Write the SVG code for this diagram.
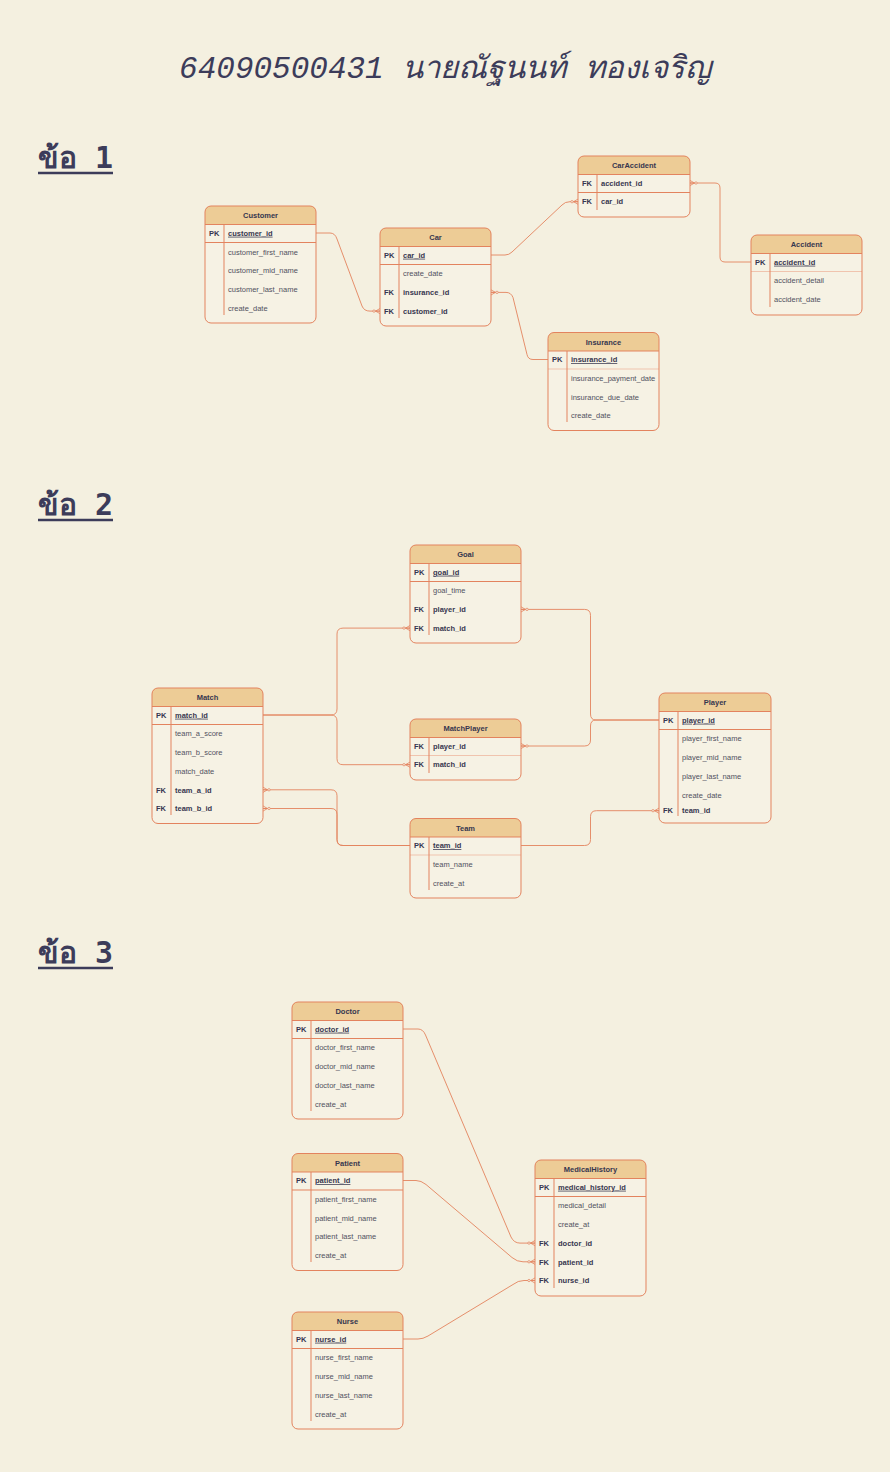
<svg xmlns="http://www.w3.org/2000/svg" width="890" height="1472" viewBox="0 0 890 1472">
<defs>
<style>
.bd{fill:#F6F2E4;stroke:none}
.hd{fill:#EDCC96;stroke:none}
.ol{fill:none;stroke:#E3835E;stroke-width:1}
.sp{stroke:#E3835E;stroke-width:1}
.spl{stroke:#F0C4AE;stroke-width:1}
.dv{stroke:#E3835E;stroke-width:1}
.t{font-family:"Liberation Sans",Arial,Helvetica,sans-serif;font-size:7.5px;fill:#51515F}
.h{font-weight:bold;text-anchor:middle;fill:#36364F}
.k{font-weight:bold;fill:#36364F}
.u{font-weight:bold;fill:#36364F;text-decoration:underline}
.c{fill:none;stroke:#E3835E;stroke-width:0.9}
.ttl{font-family:"Liberation Mono","DejaVu Sans Mono",monospace;font-size:31px;font-style:italic;fill:#3C3C5A;text-anchor:middle}
.sec{font-family:"DejaVu Sans Mono","Liberation Mono",monospace;font-size:30px;font-weight:bold;fill:#3C3C5A}
.ul{stroke:#3C3C5A;stroke-width:2.5}
</style>
<marker id="many" viewBox="-8 -4 9 8" refX="0" refY="0" markerWidth="9" markerHeight="8" markerUnits="userSpaceOnUse" orient="auto">
<path d="M-4.5,0 L0,-2.6 M-4.5,0 L0,0 M-4.5,0 L0,2.6" fill="none" stroke="#E3835E" stroke-width="0.8"/>
<circle cx="-6" cy="0" r="1.2" fill="#F4F0E0" stroke="#E3835E" stroke-width="0.7"/>
</marker>
</defs>
<rect x="0" y="0" width="890" height="1472" fill="#F4F0E0"/>

<g id="title">
<text class="ttl" x="445" y="78">64090500431 นายณัฐนนท์ ทองเจริญ</text>
</g>
<g id="labels">
<text class="sec" x="38" y="168">ข้อ 1</text>
<line class="ul" x1="38" y1="173" x2="113" y2="173"/>
<text class="sec" x="38" y="515">ข้อ 2</text>
<line class="ul" x1="38" y1="520" x2="113" y2="520"/>
<text class="sec" x="38" y="963">ข้อ 3</text>
<line class="ul" x1="38" y1="968" x2="113" y2="968"/>
</g>

<g id="connectors">
<path class="c" d="M316,233 H330 Q335,233 337,239 L362,306 Q364,311.1 370,311.1 H380" marker-end="url(#many)"/>
<path class="c" d="M491,255 H505 Q509,255 512,252 L562,205 Q565,201.7 570,201.7 H578" marker-end="url(#many)"/>
<path class="c" d="M751,262 H725 Q720,262 720,257 V188 Q720,183 715,183 H690" marker-end="url(#many)"/>
<path class="c" d="M548,359.5 H533 Q528,359.5 527,354.5 L513,297.5 Q511,292.4 506,292.4 H491" marker-end="url(#many)"/>

<path class="c" d="M263,715 H331 Q337,715 337,709 V634 Q337,628.1 343,628.1 H410" marker-end="url(#many)"/>
<path class="c" d="M263,715 H331 Q337,715 337,721 V758.7 Q337,764.7 343,764.7 H410" marker-end="url(#many)"/>
<path class="c" d="M659,720 H596 Q590.5,720 590.5,714 V615.4 Q590.5,609.4 584.5,609.4 H521" marker-end="url(#many)"/>
<path class="c" d="M659,720 H596 Q590.5,720 590.5,726 V740 Q590.5,746 584.5,746 H521" marker-end="url(#many)"/>
<path class="c" d="M410,845.5 H343 Q337,845.5 337,839.5 V795.8 Q337,789.8 331,789.8 H263" marker-end="url(#many)"/>
<path class="c" d="M410,845.5 H343 Q337,845.5 337,839.5 V814.5 Q337,808.5 331,808.5 H263" marker-end="url(#many)"/>
<path class="c" d="M521,845.5 H584.5 Q590.5,845.5 590.5,839.5 V816.7 Q590.5,810.7 596.5,810.7 H659" marker-end="url(#many)"/>

<path class="c" d="M403,1029 H418 Q423,1029 425.5,1035 L511,1237 Q514,1243.1 520,1243.1 H535" marker-end="url(#many)"/>
<path class="c" d="M403,1180.5 H416 Q421,1180.5 426,1184.5 L512,1257.5 Q517,1261.8 523,1261.8 H535" marker-end="url(#many)"/>
<path class="c" d="M403,1339 H418 Q423,1339 428,1336 L513,1284.5 Q518,1280.5 524,1280.5 H535" marker-end="url(#many)"/>
</g>

<g id="customer">
<rect class="bd" x="205" y="206" width="111" height="117" rx="6"/>
<path class="hd" d="M205,224.5 V212 Q205,206 211,206 H310 Q316,206 316,212 V224.5 Z"/>
<line class="sp" x1="205" y1="224.5" x2="316" y2="224.5"/>
<line class="sp" x1="205" y1="242.5" x2="316" y2="242.5"/>
<line class="dv" x1="224" y1="224.5" x2="224" y2="315"/>
<rect class="ol" x="205" y="206" width="111" height="117" rx="6"/>
<text class="t h" x="260.5" y="218">Customer</text>
<text class="t k" x="209" y="235.7">PK</text>
<text class="t u" x="228" y="235.7">customer_id</text>
<text class="t" x="228" y="254.7">customer_first_name</text>
<text class="t" x="228" y="273.4">customer_mid_name</text>
<text class="t" x="228" y="292">customer_last_name</text>
<text class="t" x="228" y="310.7">create_date</text>
</g>

<g id="car">
<rect class="bd" x="380" y="228" width="111" height="98" rx="6"/>
<path class="hd" d="M380,246.5 V234 Q380,228 386,228 H485 Q491,228 491,234 V246.5 Z"/>
<line class="sp" x1="380" y1="246.5" x2="491" y2="246.5"/>
<line class="sp" x1="380" y1="264.5" x2="491" y2="264.5"/>
<line class="dv" x1="399" y1="246.5" x2="399" y2="318"/>
<rect class="ol" x="380" y="228" width="111" height="98" rx="6"/>
<text class="t h" x="435.5" y="240">Car</text>
<text class="t k" x="384" y="257.7">PK</text>
<text class="t u" x="403" y="257.7">car_id</text>
<text class="t" x="403" y="276.4">create_date</text>
<text class="t k" x="384" y="295.1">FK</text>
<text class="t k" x="403" y="295.1">insurance_id</text>
<text class="t k" x="384" y="313.8">FK</text>
<text class="t k" x="403" y="313.8">customer_id</text>
</g>

<g id="caraccident">
<rect class="bd" x="578" y="156" width="112" height="61" rx="6"/>
<path class="hd" d="M578,174.5 V162 Q578,156 584,156 H684 Q690,156 690,162 V174.5 Z"/>
<line class="sp" x1="578" y1="174.5" x2="690" y2="174.5"/>
<line class="sp" x1="578" y1="192.5" x2="690" y2="192.5"/>
<line class="dv" x1="597" y1="174.5" x2="597" y2="210"/>
<rect class="ol" x="578" y="156" width="112" height="61" rx="6"/>
<text class="t h" x="634" y="168">CarAccident</text>
<text class="t k" x="582" y="185.7">FK</text>
<text class="t k" x="601" y="185.7">accident_id</text>
<text class="t k" x="582" y="204.4">FK</text>
<text class="t k" x="601" y="204.4">car_id</text>
</g>

<g id="accident">
<rect class="bd" x="751" y="235" width="111" height="80" rx="6"/>
<path class="hd" d="M751,253.5 V241 Q751,235 757,235 H856 Q862,235 862,241 V253.5 Z"/>
<line class="sp" x1="751" y1="253.5" x2="862" y2="253.5"/>
<line class="spl" x1="751" y1="271.5" x2="862" y2="271.5"/>
<line class="dv" x1="770" y1="253.5" x2="770" y2="307"/>
<rect class="ol" x="751" y="235" width="111" height="80" rx="6"/>
<text class="t h" x="806.5" y="247">Accident</text>
<text class="t k" x="755" y="264.7">PK</text>
<text class="t u" x="774" y="264.7">accident_id</text>
<text class="t" x="774" y="283.4">accident_detail</text>
<text class="t" x="774" y="302.1">accident_date</text>
</g>

<g id="insurance">
<rect class="bd" x="548" y="332.5" width="111" height="98" rx="6"/>
<path class="hd" d="M548,351 V338.5 Q548,332.5 554,332.5 H653 Q659,332.5 659,338.5 V351 Z"/>
<line class="sp" x1="548" y1="351" x2="659" y2="351"/>
<line class="spl" x1="548" y1="369" x2="659" y2="369"/>
<line class="dv" x1="567" y1="351" x2="567" y2="422"/>
<rect class="ol" x="548" y="332.5" width="111" height="98" rx="6"/>
<text class="t h" x="603.5" y="344.5">Insurance</text>
<text class="t k" x="552" y="362.2">PK</text>
<text class="t u" x="571" y="362.2">insurance_id</text>
<text class="t" x="571" y="380.9">insurance_payment_date</text>
<text class="t" x="571" y="399.6">insurance_due_date</text>
<text class="t" x="571" y="418.3">create_date</text>
</g>

<g id="goal">
<rect class="bd" x="410" y="545" width="111" height="98" rx="6"/>
<path class="hd" d="M410,563.5 V551 Q410,545 416,545 H515 Q521,545 521,551 V563.5 Z"/>
<line class="sp" x1="410" y1="563.5" x2="521" y2="563.5"/>
<line class="sp" x1="410" y1="581.5" x2="521" y2="581.5"/>
<line class="dv" x1="429" y1="563.5" x2="429" y2="635"/>
<rect class="ol" x="410" y="545" width="111" height="98" rx="6"/>
<text class="t h" x="465.5" y="557">Goal</text>
<text class="t k" x="414" y="574.7">PK</text>
<text class="t u" x="433" y="574.7">goal_id</text>
<text class="t" x="433" y="593.4">goal_time</text>
<text class="t k" x="414" y="612.1">FK</text>
<text class="t k" x="433" y="612.1">player_id</text>
<text class="t k" x="414" y="630.8">FK</text>
<text class="t k" x="433" y="630.8">match_id</text>
</g>

<g id="match">
<rect class="bd" x="152" y="688" width="111" height="135.5" rx="6"/>
<path class="hd" d="M152,706.5 V694 Q152,688 158,688 H257 Q263,688 263,694 V706.5 Z"/>
<line class="sp" x1="152" y1="706.5" x2="263" y2="706.5"/>
<line class="sp" x1="152" y1="724.5" x2="263" y2="724.5"/>
<line class="dv" x1="171" y1="706.5" x2="171" y2="815"/>
<rect class="ol" x="152" y="688" width="111" height="135.5" rx="6"/>
<text class="t h" x="207.5" y="700">Match</text>
<text class="t k" x="156" y="717.7">PK</text>
<text class="t u" x="175" y="717.7">match_id</text>
<text class="t" x="175" y="736.4">team_a_score</text>
<text class="t" x="175" y="755.1">team_b_score</text>
<text class="t" x="175" y="773.8">match_date</text>
<text class="t k" x="156" y="792.5">FK</text>
<text class="t k" x="175" y="792.5">team_a_id</text>
<text class="t k" x="156" y="811.2">FK</text>
<text class="t k" x="175" y="811.2">team_b_id</text>
</g>

<g id="matchplayer">
<rect class="bd" x="410" y="719" width="111" height="61" rx="6"/>
<path class="hd" d="M410,737.5 V725 Q410,719 416,719 H515 Q521,719 521,725 V737.5 Z"/>
<line class="sp" x1="410" y1="737.5" x2="521" y2="737.5"/>
<line class="spl" x1="410" y1="755.5" x2="521" y2="755.5"/>
<line class="dv" x1="429" y1="737.5" x2="429" y2="773"/>
<rect class="ol" x="410" y="719" width="111" height="61" rx="6"/>
<text class="t h" x="465.5" y="731">MatchPlayer</text>
<text class="t k" x="414" y="748.7">FK</text>
<text class="t k" x="433" y="748.7">player_id</text>
<text class="t k" x="414" y="767.4">FK</text>
<text class="t k" x="433" y="767.4">match_id</text>
</g>

<g id="team">
<rect class="bd" x="410" y="818.5" width="111" height="79.5" rx="6"/>
<path class="hd" d="M410,837 V824.5 Q410,818.5 416,818.5 H515 Q521,818.5 521,824.5 V837 Z"/>
<line class="sp" x1="410" y1="837" x2="521" y2="837"/>
<line class="spl" x1="410" y1="855" x2="521" y2="855"/>
<line class="dv" x1="429" y1="837" x2="429" y2="890"/>
<rect class="ol" x="410" y="818.5" width="111" height="79.5" rx="6"/>
<text class="t h" x="465.5" y="830.5">Team</text>
<text class="t k" x="414" y="848.2">PK</text>
<text class="t u" x="433" y="848.2">team_id</text>
<text class="t" x="433" y="866.9">team_name</text>
<text class="t" x="433" y="885.6">create_at</text>
</g>

<g id="player">
<rect class="bd" x="659" y="693" width="112" height="130" rx="6"/>
<path class="hd" d="M659,711.5 V699 Q659,693 665,693 H765 Q771,693 771,699 V711.5 Z"/>
<line class="sp" x1="659" y1="711.5" x2="771" y2="711.5"/>
<line class="sp" x1="659" y1="729.5" x2="771" y2="729.5"/>
<line class="dv" x1="678" y1="711.5" x2="678" y2="816"/>
<rect class="ol" x="659" y="693" width="112" height="130" rx="6"/>
<text class="t h" x="715" y="705">Player</text>
<text class="t k" x="663" y="722.7">PK</text>
<text class="t u" x="682" y="722.7">player_id</text>
<text class="t" x="682" y="741.4">player_first_name</text>
<text class="t" x="682" y="760.1">player_mid_name</text>
<text class="t" x="682" y="778.8">player_last_name</text>
<text class="t" x="682" y="797.5">create_date</text>
<text class="t k" x="663" y="813.2">FK</text>
<text class="t k" x="682" y="813.2">team_id</text>
</g>

<g id="doctor">
<rect class="bd" x="292" y="1002" width="111" height="117" rx="6"/>
<path class="hd" d="M292,1020.5 V1008 Q292,1002 298,1002 H397 Q403,1002 403,1008 V1020.5 Z"/>
<line class="sp" x1="292" y1="1020.5" x2="403" y2="1020.5"/>
<line class="sp" x1="292" y1="1038.5" x2="403" y2="1038.5"/>
<line class="dv" x1="311" y1="1020.5" x2="311" y2="1111"/>
<rect class="ol" x="292" y="1002" width="111" height="117" rx="6"/>
<text class="t h" x="347.5" y="1014">Doctor</text>
<text class="t k" x="296" y="1031.7">PK</text>
<text class="t u" x="315" y="1031.7">doctor_id</text>
<text class="t" x="315" y="1050.4">doctor_first_name</text>
<text class="t" x="315" y="1069.1">doctor_mid_name</text>
<text class="t" x="315" y="1087.8">doctor_last_name</text>
<text class="t" x="315" y="1106.5">create_at</text>
</g>

<g id="patient">
<rect class="bd" x="292" y="1153.5" width="111" height="117" rx="6"/>
<path class="hd" d="M292,1172 V1159.5 Q292,1153.5 298,1153.5 H397 Q403,1153.5 403,1159.5 V1172 Z"/>
<line class="sp" x1="292" y1="1172" x2="403" y2="1172"/>
<line class="sp" x1="292" y1="1190" x2="403" y2="1190"/>
<line class="dv" x1="311" y1="1172" x2="311" y2="1262"/>
<rect class="ol" x="292" y="1153.5" width="111" height="117" rx="6"/>
<text class="t h" x="347.5" y="1165.5">Patient</text>
<text class="t k" x="296" y="1183.2">PK</text>
<text class="t u" x="315" y="1183.2">patient_id</text>
<text class="t" x="315" y="1201.9">patient_first_name</text>
<text class="t" x="315" y="1220.6">patient_mid_name</text>
<text class="t" x="315" y="1239.3">patient_last_name</text>
<text class="t" x="315" y="1258">create_at</text>
</g>

<g id="nurse">
<rect class="bd" x="292" y="1312" width="111" height="117" rx="6"/>
<path class="hd" d="M292,1330.5 V1318 Q292,1312 298,1312 H397 Q403,1312 403,1318 V1330.5 Z"/>
<line class="sp" x1="292" y1="1330.5" x2="403" y2="1330.5"/>
<line class="sp" x1="292" y1="1348.5" x2="403" y2="1348.5"/>
<line class="dv" x1="311" y1="1330.5" x2="311" y2="1421"/>
<rect class="ol" x="292" y="1312" width="111" height="117" rx="6"/>
<text class="t h" x="347.5" y="1324">Nurse</text>
<text class="t k" x="296" y="1341.7">PK</text>
<text class="t u" x="315" y="1341.7">nurse_id</text>
<text class="t" x="315" y="1360.4">nurse_first_name</text>
<text class="t" x="315" y="1379.1">nurse_mid_name</text>
<text class="t" x="315" y="1397.8">nurse_last_name</text>
<text class="t" x="315" y="1416.5">create_at</text>
</g>

<g id="medicalhistory">
<rect class="bd" x="535" y="1160" width="111" height="136" rx="6"/>
<path class="hd" d="M535,1178.5 V1166 Q535,1160 541,1160 H640 Q646,1160 646,1166 V1178.5 Z"/>
<line class="sp" x1="535" y1="1178.5" x2="646" y2="1178.5"/>
<line class="sp" x1="535" y1="1196.5" x2="646" y2="1196.5"/>
<line class="dv" x1="554" y1="1178.5" x2="554" y2="1288"/>
<rect class="ol" x="535" y="1160" width="111" height="136" rx="6"/>
<text class="t h" x="590.5" y="1172">MedicalHistory</text>
<text class="t k" x="539" y="1189.7">PK</text>
<text class="t u" x="558" y="1189.7">medical_history_id</text>
<text class="t" x="558" y="1208.4">medical_detail</text>
<text class="t" x="558" y="1227.1">create_at</text>
<text class="t k" x="539" y="1245.8">FK</text>
<text class="t k" x="558" y="1245.8">doctor_id</text>
<text class="t k" x="539" y="1264.5">FK</text>
<text class="t k" x="558" y="1264.5">patient_id</text>
<text class="t k" x="539" y="1283.2">FK</text>
<text class="t k" x="558" y="1283.2">nurse_id</text>
</g>
</svg>
